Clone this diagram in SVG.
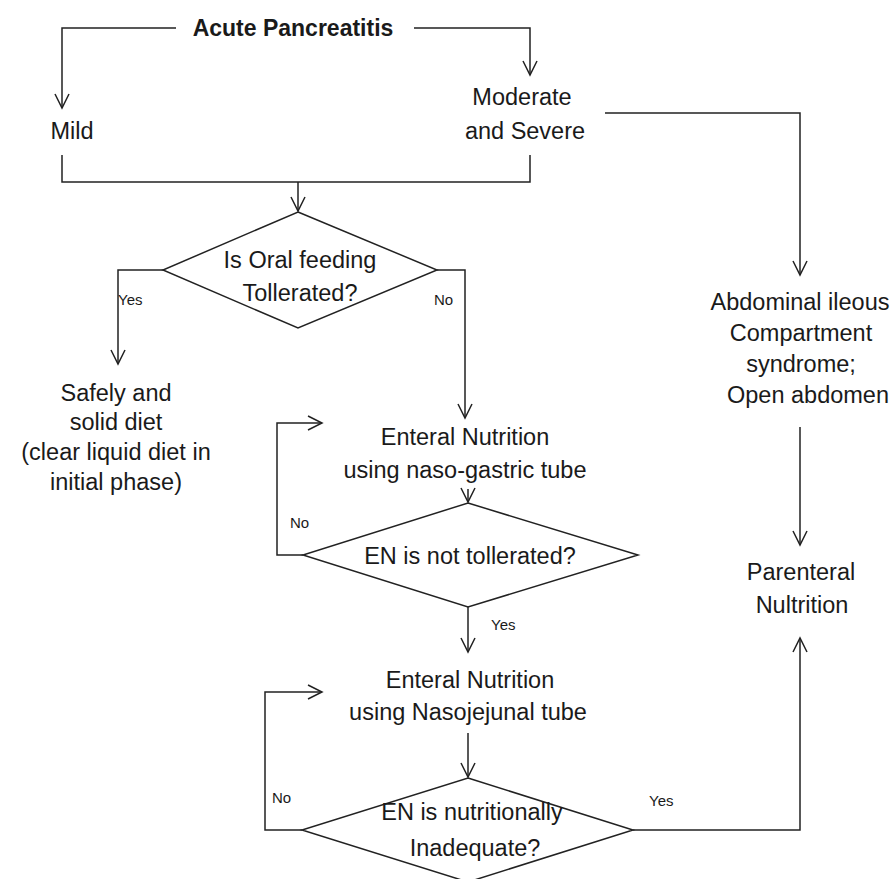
<svg xmlns="http://www.w3.org/2000/svg" width="891" height="879" viewBox="0 0 891 879">
<defs>
<marker id="arr" viewBox="0 0 20 20" refX="18" refY="10" markerWidth="20" markerHeight="20" markerUnits="userSpaceOnUse" orient="auto">
<path d="M4,3 L18,10 L4,17" fill="none" stroke="#222" stroke-width="1.5"/>
</marker>
<style>
.t{font-family:"Liberation Sans",Arial,sans-serif;font-size:23.5px;fill:#1a1a1a;text-anchor:middle}
.s{font-family:"Liberation Sans",Arial,sans-serif;font-size:15px;fill:#1a1a1a}
.b{font-weight:bold;font-size:23px}
.c{fill:none;stroke:#222;stroke-width:1.5}
.d{fill:#fff;stroke:#222;stroke-width:1.5}
</style>
</defs>
<rect width="891" height="879" fill="#fff"/>
<g id="connectors">
<path class="c" d="M176,28 H62 V108" marker-end="url(#arr)"/>
<path class="c" d="M414,28 H530 V75" marker-end="url(#arr)"/>
<path class="c" d="M62,155 V182 H530 V155"/>
<path class="c" d="M298,182 V211" marker-end="url(#arr)"/>
<path class="c" d="M605,113 H800 V275" marker-end="url(#arr)"/>
<path class="c" d="M163,270 H118 V364" marker-end="url(#arr)"/>
<path class="c" d="M437,270 H465 V418" marker-end="url(#arr)"/>
<path class="c" d="M303,555 H277 V423 H322" marker-end="url(#arr)"/>
<path class="c" d="M468,489 V502" marker-end="url(#arr)"/>
<path class="c" d="M468,607 V652" marker-end="url(#arr)"/>
<path class="c" d="M302,830 H265 V692 H322" marker-end="url(#arr)"/>
<path class="c" d="M468,733 V777" marker-end="url(#arr)"/>
<path class="c" d="M633,830 H800 V638" marker-end="url(#arr)"/>
<path class="c" d="M800,427 V545" marker-end="url(#arr)"/>
</g>
<g id="acute"><text class="t b" x="293" y="36">Acute Pancreatitis</text></g>
<g id="mild"><text class="t" x="72" y="139">Mild</text></g>
<g id="moderate"><text class="t" x="522" y="105">Moderate</text><text class="t" x="525" y="139">and Severe</text></g>
<g id="oral">
<polygon class="d" points="298,212 437,270 298,328 163,270"/>
<text class="t" x="300" y="268">Is Oral feeding</text>
<text class="t" x="300" y="301">Tollerated?</text>
</g>
<g id="labels">
<text class="s" x="118" y="305">Yes</text>
<text class="s" x="434" y="305">No</text>
<text class="s" x="290" y="528">No</text>
<text class="s" x="491" y="630">Yes</text>
<text class="s" x="272" y="803">No</text>
<text class="s" x="649" y="806">Yes</text>
</g>
<g id="safely">
<text class="t" x="116" y="401">Safely and</text>
<text class="t" x="116" y="430">solid diet</text>
<text class="t" x="116" y="460">(clear liquid diet in</text>
<text class="t" x="116" y="490">initial phase)</text>
</g>
<g id="ngt">
<text class="t" x="465" y="445">Enteral Nutrition</text>
<text class="t" x="465" y="478">using naso-gastric tube</text>
</g>
<g id="entol">
<polygon class="d" points="468,503 638,555 468,607 303,555"/>
<text class="t" x="470" y="564">EN is not tollerated?</text>
</g>
<g id="njt">
<text class="t" x="470" y="688">Enteral Nutrition</text>
<text class="t" x="468" y="720">using Nasojejunal tube</text>
</g>
<g id="eninad">
<polygon class="d" points="468,778 633,830 468,882 302,830"/>
<text class="t" x="472" y="820">EN is nutritionally</text>
<text class="t" x="475" y="856">Inadequate?</text>
</g>
<g id="abdominal">
<text class="t" x="800" y="310">Abdominal ileous</text>
<text class="t" x="801" y="341">Compartment</text>
<text class="t" x="801" y="372">syndrome;</text>
<text class="t" x="808" y="403">Open abdomen</text>
</g>
<g id="parenteral">
<text class="t" x="801" y="580">Parenteral</text>
<text class="t" x="802" y="613">Nultrition</text>
</g>
</svg>
